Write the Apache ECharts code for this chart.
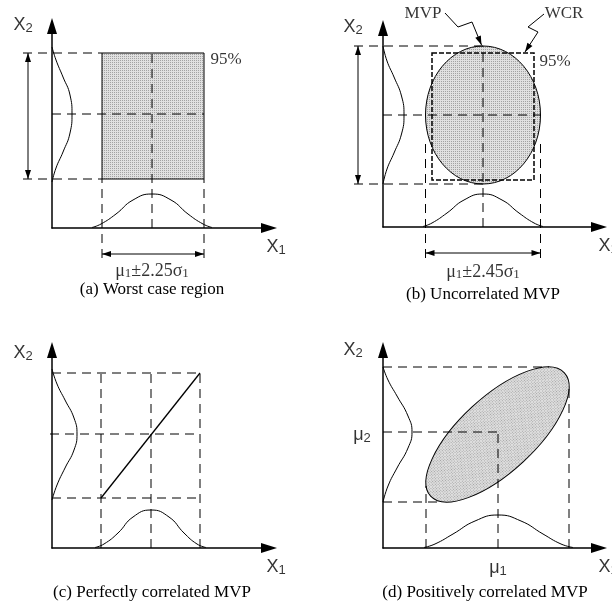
<!DOCTYPE html>
<html>
<head>
<meta charset="utf-8">
<script src="https://cdn.jsdelivr.net/npm/echarts@6/dist/echarts.min.js"></script>
<style>
  html, body { margin: 0; padding: 0; background: #fff; }
  #chart { width: 612px; height: 608px; }
</style>
</head>
<body>
<div id="chart"></div>
<script>
// Four panels sharing one scale: 1 unit = 10 px along each axis, counted from
// the panel's own origin. Negative values sit left of / below the axes.

// (a) worst case region
const aRegion = [5.0, 4.9, 15.2, 17.5];           // x1, y1, x2, y2
const aMean = [10.0, 11.4];                        // mu1, mu2
const aDensityX1 = [[4.0, 0.05], [4.9, 0.4], [6.4, 1.4], [8.1, 2.8], [10.0, 3.4], [11.9, 2.8], [13.6, 1.4], [15.1, 0.4], [16.0, 0.05]];
const aDensityX2 = [[0.0, 4.6], [0.4, 6.0], [1.1, 7.6], [1.8, 9.5], [2.0, 11.4], [1.8, 13.3], [1.1, 15.1], [0.4, 16.8], [0.0, 18.1]];

// (b) uncorrelated MVP inside the worst case rectangle
const bEllipse = [10.0, 11.2, 5.75, 6.9];          // cx, cy, rx, ry
const bWcr = [4.9, 4.7, 15.1, 17.4];               // x1, y1, x2, y2
const bDensityX1 = [[4.0, 0.05], [4.9, 0.4], [6.4, 1.4], [8.1, 2.7], [10.0, 3.3], [11.9, 2.7], [13.6, 1.4], [15.1, 0.4], [16.0, 0.05]];
const bDensityX2 = [[0.0, 4.3], [0.4, 5.8], [1.1, 7.4], [1.85, 9.3], [2.1, 11.2], [1.85, 13.1], [1.1, 15.0], [0.4, 16.6], [0.0, 18.1]];
const bMvpLeader = [[6.2, 21.4], [7.5, 20.0], [8.9, 20.5], [9.85, 18.2]];
const bWcrLeader = [[16.1, 21.3], [14.5, 20.0], [15.5, 19.5], [14.2, 17.5]];

// (c) perfectly correlated MVP
const cLevelsX1 = [4.9, 9.9, 14.8];
const cLevelsX2 = [5.0, 11.4, 17.5];
const cLine = [[4.9, 5.0], [14.8, 17.5]];
const cDensityX1 = [[4.3, 0.05], [5.2, 0.4], [6.6, 1.5], [8.1, 3.1], [9.9, 3.8], [11.7, 3.1], [13.2, 1.5], [14.5, 0.4], [15.4, 0.05]];
const cDensityX2 = [[0.0, 4.8], [0.5, 6.3], [1.3, 8.0], [2.2, 9.8], [2.5, 11.4], [2.2, 13.0], [1.3, 14.8], [0.5, 16.4], [0.0, 17.9]];

// (d) positively correlated MVP
const dEllipse = [11.45, 11.35, 9.1, 3.75, 42.7]; // cx, cy, semi-major, semi-minor, tilt (deg)
const dMean = [11.5, 11.6];
const dTop = [16.6, 18.1];
const dRight = [18.6, 16.0];
const dBottom = [5.8, 4.6];
const dLeft = [4.3, 6.2];
const dDensityX1 = [[4.1, 0.05], [5.2, 0.4], [7.0, 1.4], [9.2, 2.7], [11.5, 3.3], [13.8, 2.7], [16.0, 1.4], [17.8, 0.4], [19.0, 0.05]];
const dDensityX2 = [[0.0, 4.6], [0.5, 6.2], [1.4, 8.0], [2.5, 10.0], [2.9, 11.6], [2.5, 13.2], [1.4, 15.2], [0.5, 16.8], [0.0, 18.1]];

const captions = ['(a) Worst case region', '(b) Uncorrelated MVP', '(c) Perfectly correlated MVP', '(d) Positively correlated MVP'];

// ---------------------------------------------------------------------------
const ink = '#000';
const SANS = 'Liberation Sans';
const SERIF = 'Liberation Serif';
const DASH = [9, 6];

// stippled grey fill
const tile = document.createElement('canvas');
tile.width = 2; tile.height = 2;
const tc = tile.getContext('2d');
tc.fillStyle = '#e0e0e0'; tc.fillRect(0, 0, 2, 2);
tc.fillStyle = '#a2a2a2'; tc.fillRect(0, 0, 1, 1);
const shade = { type: 'pattern', image: tile, repeat: 'repeat' };

const richFor = (fam, size) => ({
  main: { fontFamily: fam, fontSize: size, lineHeight: size + 1, color: ink },
  sub: { fontFamily: fam, fontSize: Math.round(size * 0.72), lineHeight: 4, verticalAlign: 'bottom', color: ink }
});

const on = g => ({ xAxisIndex: g, yAxisIndex: g });

function segRender(dash, width) {
  return function (params, api) {
    const p = api.coord([api.value(0), api.value(1)]);
    const q = api.coord([api.value(2), api.value(3)]);
    return { type: 'line', shape: { x1: p[0], y1: p[1], x2: q[0], y2: q[1] },
      style: { stroke: ink, lineWidth: width, lineDash: dash, fill: null } };
  };
}

function head(tip, ux, uy, len, half) {
  const bx = tip[0] - ux * len, by = tip[1] - uy * len;
  return { type: 'polygon',
    shape: { points: [tip, [bx - uy * half, by + ux * half], [bx + uy * half, by - ux * half]] },
    style: { fill: ink, stroke: null } };
}

function arrowRender(params, api) {
  const p = api.coord([api.value(0), api.value(1)]);
  const q = api.coord([api.value(2), api.value(3)]);
  const both = api.value(4) > 1;
  const dx = q[0] - p[0], dy = q[1] - p[1];
  const n = Math.hypot(dx, dy) || 1;
  const ux = dx / n, uy = dy / n;
  const kids = [
    { type: 'line', shape: { x1: p[0], y1: p[1], x2: q[0], y2: q[1] }, style: { stroke: ink, lineWidth: 1 } },
    head(q, ux, uy, 9, 3)
  ];
  if (both) kids.push(head(p, -ux, -uy, 9, 3));
  return { type: 'group', children: kids };
}

function rectRender(fill, dash, width) {
  return function (params, api) {
    const p = api.coord([api.value(0), api.value(3)]);
    const q = api.coord([api.value(2), api.value(1)]);
    return { type: 'rect', shape: { x: p[0], y: p[1], width: q[0] - p[0], height: q[1] - p[1] },
      style: { fill: fill, stroke: ink, lineWidth: width, lineDash: dash } };
  };
}

function ellipseRender(params, api) {
  const c = api.coord([api.value(0), api.value(1)]);
  const s = api.size([api.value(2), api.value(3)]);
  const tilt = (api.value(4) || 0) * Math.PI / 180;
  return { type: 'ellipse', x: c[0], y: c[1], rotation: tilt,
    shape: { cx: 0, cy: 0, rx: s[0], ry: s[1] },
    style: { fill: shade, stroke: ink, lineWidth: 1 } };
}

function segments(g, rows, dash, width, z) {
  return Object.assign({ type: 'custom', renderItem: segRender(dash, width), data: rows,
    dimensions: ['x1', 'y1', 'x2', 'y2'], encode: { x: [0, 2], y: [1, 3] },
    silent: true, animation: false, z: z || 3 }, on(g));
}
function arrows(g, rows) {
  return Object.assign({ type: 'custom', renderItem: arrowRender, data: rows,
    dimensions: ['x1', 'y1', 'x2', 'y2', 'heads'], encode: { x: [0, 2], y: [1, 3] },
    silent: true, animation: false, z: 5 }, on(g));
}
function rect(g, box, fill, dash, width, z) {
  return Object.assign({ type: 'custom', renderItem: rectRender(fill, dash, width), data: [box],
    dimensions: ['x1', 'y1', 'x2', 'y2'], encode: { x: [0, 2], y: [1, 3] },
    silent: true, animation: false, z: z }, on(g));
}
function ellipse(g, e) {
  const row = e.length > 4 ? e : e.concat([0]);
  return Object.assign({ type: 'custom', renderItem: ellipseRender, data: [row],
    dimensions: ['cx', 'cy', 'rx', 'ry', 'tilt'], encode: { x: 0, y: 1 },
    silent: true, animation: false, z: 2 }, on(g));
}
function density(g, pts) {
  return Object.assign({ type: 'line', data: pts, smooth: 0.5, symbol: 'none', clip: false,
    lineStyle: { color: ink, width: 1 }, silent: true, animation: false, z: 4 }, on(g));
}
function notes(g, items) {
  return Object.assign({ type: 'scatter', symbolSize: 1, clip: false, silent: true, animation: false, z: 6,
    itemStyle: { color: 'rgba(0,0,0,0)' },
    data: items.map(n => ({ value: n.at, label: {
      show: true, position: n.pos || 'inside', distance: 0,
      formatter: () => n.text, color: ink, fontFamily: n.font, fontSize: n.size || 17,
      rich: richFor(n.font, n.size || 17) } })) }, on(g));
}
function polylineRows(pts) {
  const rows = [];
  for (let i = 0; i < pts.length - 2; i++) rows.push([pts[i][0], pts[i][1], pts[i + 1][0], pts[i + 1][1]]);
  return rows;
}
function lastLeg(pts) {
  const a = pts[pts.length - 2], b = pts[pts.length - 1];
  return [a[0], a[1], b[0], b[1], 1];
}

const axisLine = { show: true, onZero: false, symbol: ['none', 'triangle'], symbolSize: [10, 16],
  lineStyle: { color: ink, width: 1.5 } };
function axis(g, max) {
  return { type: 'value', gridIndex: g, min: 0, max: max, axisLine: axisLine,
    axisTick: { show: false }, axisLabel: { show: false }, splitLine: { show: false } };
}

const X1 = '{main|X}{sub|1}', X2 = '{main|X}{sub|2}';

// (a)
const [ax1, ay1, ax2, ay2] = aRegion;
const aSeries = [
  rect(0, aRegion, shade, null, 1, 2),
  segments(0, [
    [-2.9, ay2, ax1, ay2], [-2.9, ay1, ax1, ay1],
    [0, aMean[1], ax2, aMean[1]], [aMean[0], 0, aMean[0], ay2],
    [ax1, -3.0, ax1, ay1], [ax2, -3.0, ax2, ay1]
  ], DASH, 1),
  arrows(0, [[-2.4, ay1, -2.4, ay2, 2], [ax1, -2.6, ax2, -2.6, 2]]),
  density(0, aDensityX1), density(0, aDensityX2),
  notes(0, [
    { at: [-2.9, 20.3], text: X2, font: SANS, size: 18 },
    { at: [22.4, -1.9], text: X1, font: SANS, size: 18 },
    { at: [15.8, 16.8], text: '95%', font: SERIF, pos: 'right' },
    { at: [aMean[0], -4.3], text: '{main|μ}{sub|1}{main|±2.25σ}{sub|1}', font: SERIF, size: 18 }
  ])
];

// (b)
const [bcx, bcy, brx, bry] = bEllipse;
const bSeries = [
  ellipse(1, bEllipse),
  segments(1, [
    [-2.9, bcy + bry, bcx, bcy + bry], [-2.9, bcy - bry, bcx, bcy - bry],
    [0, bcy, bcx + brx, bcy], [bcx, 0, bcx, bcy + bry],
    [bcx - brx, -3.1, bcx - brx, 8.4], [bcx + brx, -3.1, bcx + brx, 8.4]
  ], DASH, 1),
  rect(1, bWcr, 'none', [5, 2], 1.5, 4),
  segments(1, polylineRows(bMvpLeader).concat(polylineRows(bWcrLeader)), null, 1, 5),
  arrows(1, [
    [-2.5, bcy - bry, -2.5, bcy + bry, 2], [bcx - brx, -2.6, bcx + brx, -2.6, 2],
    lastLeg(bMvpLeader), lastLeg(bWcrLeader)
  ]),
  density(1, bDensityX1), density(1, bDensityX2),
  notes(1, [
    { at: [-3.0, 20.0], text: X2, font: SANS, size: 18 },
    { at: [22.5, -1.9], text: X1, font: SANS, size: 18 },
    { at: [15.6, 16.5], text: '95%', font: SERIF, pos: 'right' },
    { at: [4.0, 21.3], text: 'MVP', font: SERIF },
    { at: [18.1, 21.3], text: 'WCR', font: SERIF },
    { at: [bcx, -4.5], text: '{main|μ}{sub|1}{main|±2.45σ}{sub|1}', font: SERIF, size: 18 }
  ])
];

// (c)
const cGrid = [];
cLevelsX2.forEach((y, i) => cGrid.push([i === 1 ? -0.2 : 0, y, cLevelsX1[2], y]));
cLevelsX1.forEach(x => cGrid.push([x, 0, x, cLevelsX2[2]]));
const cSeries = [
  segments(2, cGrid, DASH, 1),
  segments(2, [[cLine[0][0], cLine[0][1], cLine[1][0], cLine[1][1]]], null, 1.3, 4),
  density(2, cDensityX1), density(2, cDensityX2),
  notes(2, [
    { at: [-2.9, 19.5], text: X2, font: SANS, size: 18 },
    { at: [22.4, -1.9], text: X1, font: SANS, size: 18 }
  ])
];

// (d)
const dSeries = [
  ellipse(3, dEllipse),
  segments(3, [
    [0, dTop[1], dTop[0], dTop[1]], [dRight[0], 0, dRight[0], dRight[1]],
    [0, dMean[1], dMean[0], dMean[1]], [dMean[0], 0, dMean[0], dMean[1]],
    [0, dBottom[1], dBottom[0], dBottom[1]], [dLeft[0], 0, dLeft[0], dLeft[1]]
  ], DASH, 1),
  density(3, dDensityX1), density(3, dDensityX2),
  notes(3, [
    { at: [-3.0, 19.8], text: X2, font: SANS, size: 18 },
    { at: [22.5, -1.9], text: X1, font: SANS, size: 18 },
    { at: [-2.1, 11.3], text: '{main|μ}{sub|2}', font: SANS, size: 18 },
    { at: [dMean[0], -2.0], text: '{main|μ}{sub|1}', font: SANS, size: 18 }
  ])
];

const captionAt = [[152, 290], [483, 295], [152, 593], [485, 593]];

const chart = echarts.init(document.getElementById('chart'), null, { renderer: 'canvas' });
chart.setOption({
  backgroundColor: '#fff',
  animation: false,
  grid: [
    { left: 52, top: 26, width: 217, height: 202, outerBoundsMode: 'none' },
    { left: 383, top: 28, width: 216, height: 199, outerBoundsMode: 'none' },
    { left: 52, top: 350, width: 217, height: 198, outerBoundsMode: 'none' },
    { left: 383, top: 350, width: 216, height: 198, outerBoundsMode: 'none' }
  ],
  xAxis: [axis(0, 21.7), axis(1, 21.6), axis(2, 21.7), axis(3, 21.6)],
  yAxis: [axis(0, 20.2), axis(1, 19.9), axis(2, 19.8), axis(3, 19.8)],
  graphic: captions.map((t, i) => ({
    type: 'text', x: captionAt[i][0], y: captionAt[i][1], silent: true,
    style: { text: t, fontFamily: SERIF, fontSize: 17, fill: ink, align: 'center', verticalAlign: 'middle' }
  })),
  series: [].concat(aSeries, bSeries, cSeries, dSeries)
});
</script>
</body>
</html>
